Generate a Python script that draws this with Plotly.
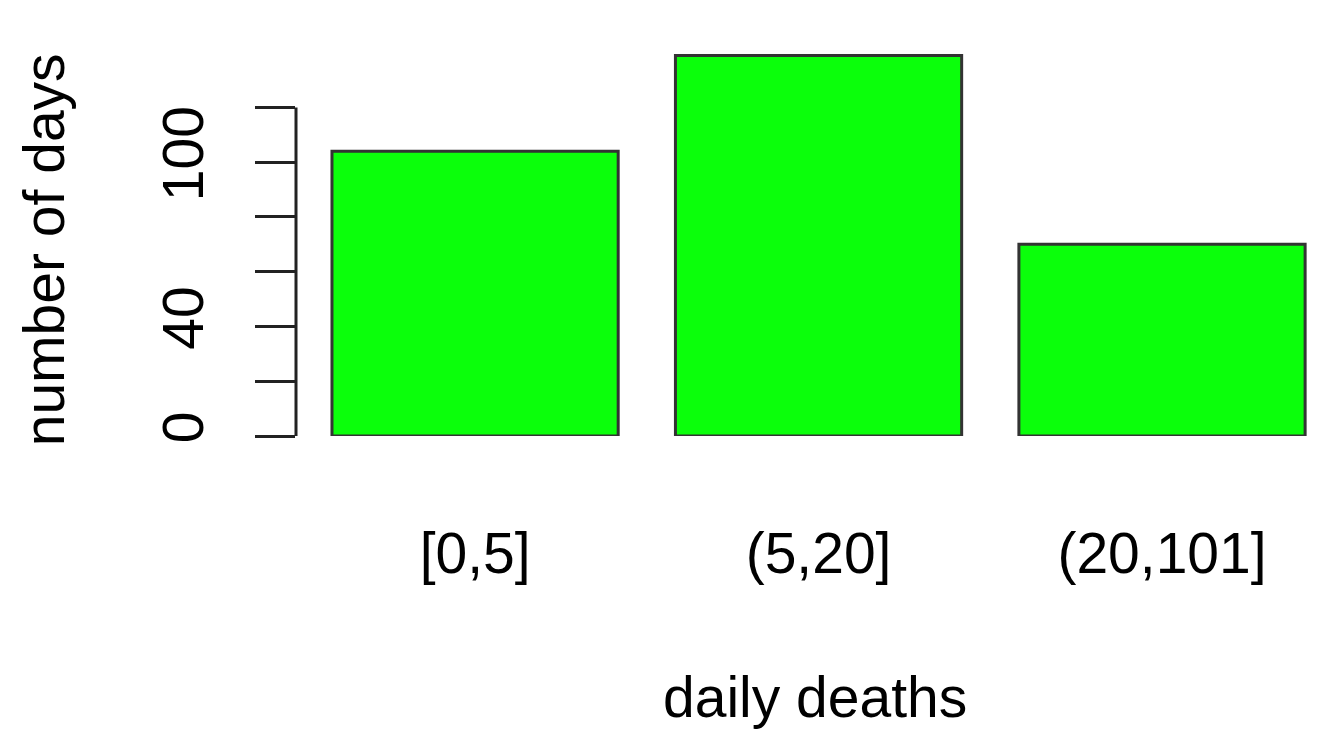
"""bar chart of number of days by daily deaths bucket"""

import plotly.graph_objects as go

# data
categories = ["[0,5]", "(5,20]", "(20,101]"]
days = [104, 139, 70]
bar_pos = [0.7, 1.9, 3.1]
y_ticks = [0, 20, 40, 60, 80, 100, 120]
y_tick_text = ["0", "", "40", "", "", "100", ""]

FONT = "Liberation Sans, Arial, sans-serif"
INK = "#222222"


def main():
    """main"""
    fig = go.Figure(go.Bar(
        x=bar_pos,
        y=days,
        width=1,
        marker=dict(color="#0BFF0B", line=dict(color="#333333", width=3)),
    ))

    # the page body adds an 8px offset, margins are shifted to match
    fig.update_layout(
        width=1332,
        height=745,
        margin=dict(l=288, r=20, t=31, b=317),
        paper_bgcolor="white",
        plot_bgcolor="white",
        showlegend=False,
        font=dict(family=FONT, size=57, color="black"),
    )

    fig.update_xaxes(
        range=[0.0743, 3.652],
        tickvals=bar_pos,
        ticktext=categories,
        ticks="",
        showline=False,
        showgrid=False,
        zeroline=False,
        automargin=False,
        ticklabelstandoff=79,
    )

    fig.update_yaxes(
        range=[0, 145],
        tickvals=y_ticks,
        ticktext=y_tick_text,
        ticks="outside",
        ticklen=40,
        tickwidth=3,
        tickcolor=INK,
        tickangle=-90,
        showline=False,
        showgrid=False,
        zeroline=False,
        automargin=False,
        ticklabelstandoff=29,
    )

    # R style axis line that only spans the tick range
    fig.add_shape(type="line", xref="paper", yref="y",
                  x0=0, x1=0, y0=y_ticks[0], y1=y_ticks[-1],
                  line=dict(color=INK, width=3))

    fig.add_annotation(text="number of days", xref="paper", yref="paper",
                       x=-0.246, y=0.468, textangle=-90, showarrow=False,
                       xanchor="center", yanchor="middle",
                       font=dict(size=57))
    fig.add_annotation(text="daily deaths", xref="paper", yref="paper",
                       x=0.507, y=-0.657, showarrow=False,
                       xanchor="center", yanchor="middle",
                       font=dict(size=57))

    fig.write_html("out.html")


if __name__ == "__main__":
    main()
